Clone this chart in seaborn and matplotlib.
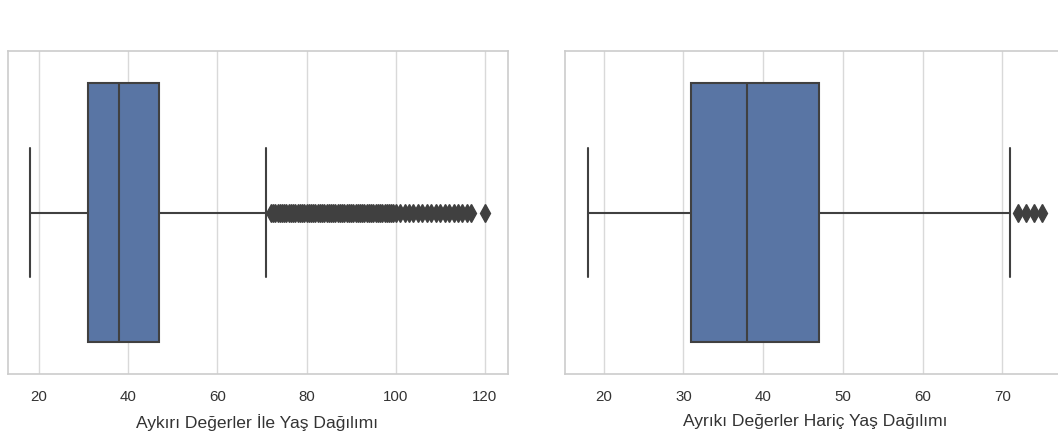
import numpy as np
import pandas as pd
import seaborn as sns
import matplotlib
matplotlib.use("Agg")
import matplotlib.pyplot as plt

# ---- data (ages) ----
# left: with outliers
left_core_ages = [18, 31, 38, 47, 71]
left_core_counts = [1, 100, 100, 100, 1]
left_outliers = [72, 72.5, 73, 73.5, 74, 74.5, 75, 75.5, 76, 76.5, 77, 77.5, 78, 78.5,
                 79, 79.5, 80, 80.5, 81, 81.5, 82, 82.5, 83, 83.5, 84, 84.5, 85, 85.5,
                 86, 86.5, 87, 87.5, 88, 88.5, 89, 89.5, 90, 90.5, 91, 91.5, 92, 92.5,
                 93, 93.5, 94, 94.5, 95, 95.5, 96, 96.5, 97, 97.5, 98, 98.5, 99, 99.5,
                 100, 101, 102, 103, 104, 105, 106, 107, 108, 109, 110, 111, 112, 113,
                 114, 115, 116, 117, 120]
# right: outliers removed
right_core_ages = [18, 31, 38, 47, 71]
right_core_counts = [1, 100, 100, 100, 1]
right_outliers = [72, 73, 74, 75]

left_label = "Aykırı Değerler İle Yaş Dağılımı"
right_label = "Ayrıkı Değerler Hariç Yaş Dağılımı"
left_ticks = [20, 40, 60, 80, 100, 120]
right_ticks = [20, 30, 40, 50, 60, 70]

left_data = np.concatenate([np.repeat(left_core_ages, left_core_counts), left_outliers])
right_data = np.concatenate([np.repeat(right_core_ages, right_core_counts), right_outliers])

sns.set_theme(style="whitegrid")
plt.rcParams['font.family'] = ['Liberation Sans', 'DejaVu Sans']

W, H = 1058, 435
fig = plt.figure(figsize=(W / 100, H / 100), dpi=100)
ax1 = fig.add_axes([7.5 / W, (H - 375) / H, 500 / W, 323 / H])
ax2 = fig.add_axes([565 / W, (H - 375) / H, 500 / W, 323 / H])

box_color = sns.color_palette("deep")[0]
line_color = "#404040"
flier = dict(marker="d", markerfacecolor=line_color, markeredgecolor=line_color,
             markersize=9, markeredgewidth=1.0)

for ax, data, label, ticks in [(ax1, left_data, left_label, left_ticks),
                               (ax2, right_data, right_label, right_ticks)]:
    sns.boxplot(x=data, ax=ax, color=box_color, saturation=0.75, width=0.8,
                linecolor=line_color, linewidth=1.5, flierprops=flier)
    ax.set_xticks(ticks)
    ax.set_yticks([])
    ax.grid(axis="y", visible=False)
    ax.grid(axis="x", color="#d9d9d9", linewidth=1.0)
    ax.set_xlabel(label, fontsize=12.6, color="#333333", labelpad=7)
    ax.tick_params(axis="x", labelsize=10.8, colors="#333333", pad=5)
    for s in ax.spines.values():
        s.set_color("#cccccc")
        s.set_linewidth(1.2)

fig.savefig("out.png", dpi=100)
